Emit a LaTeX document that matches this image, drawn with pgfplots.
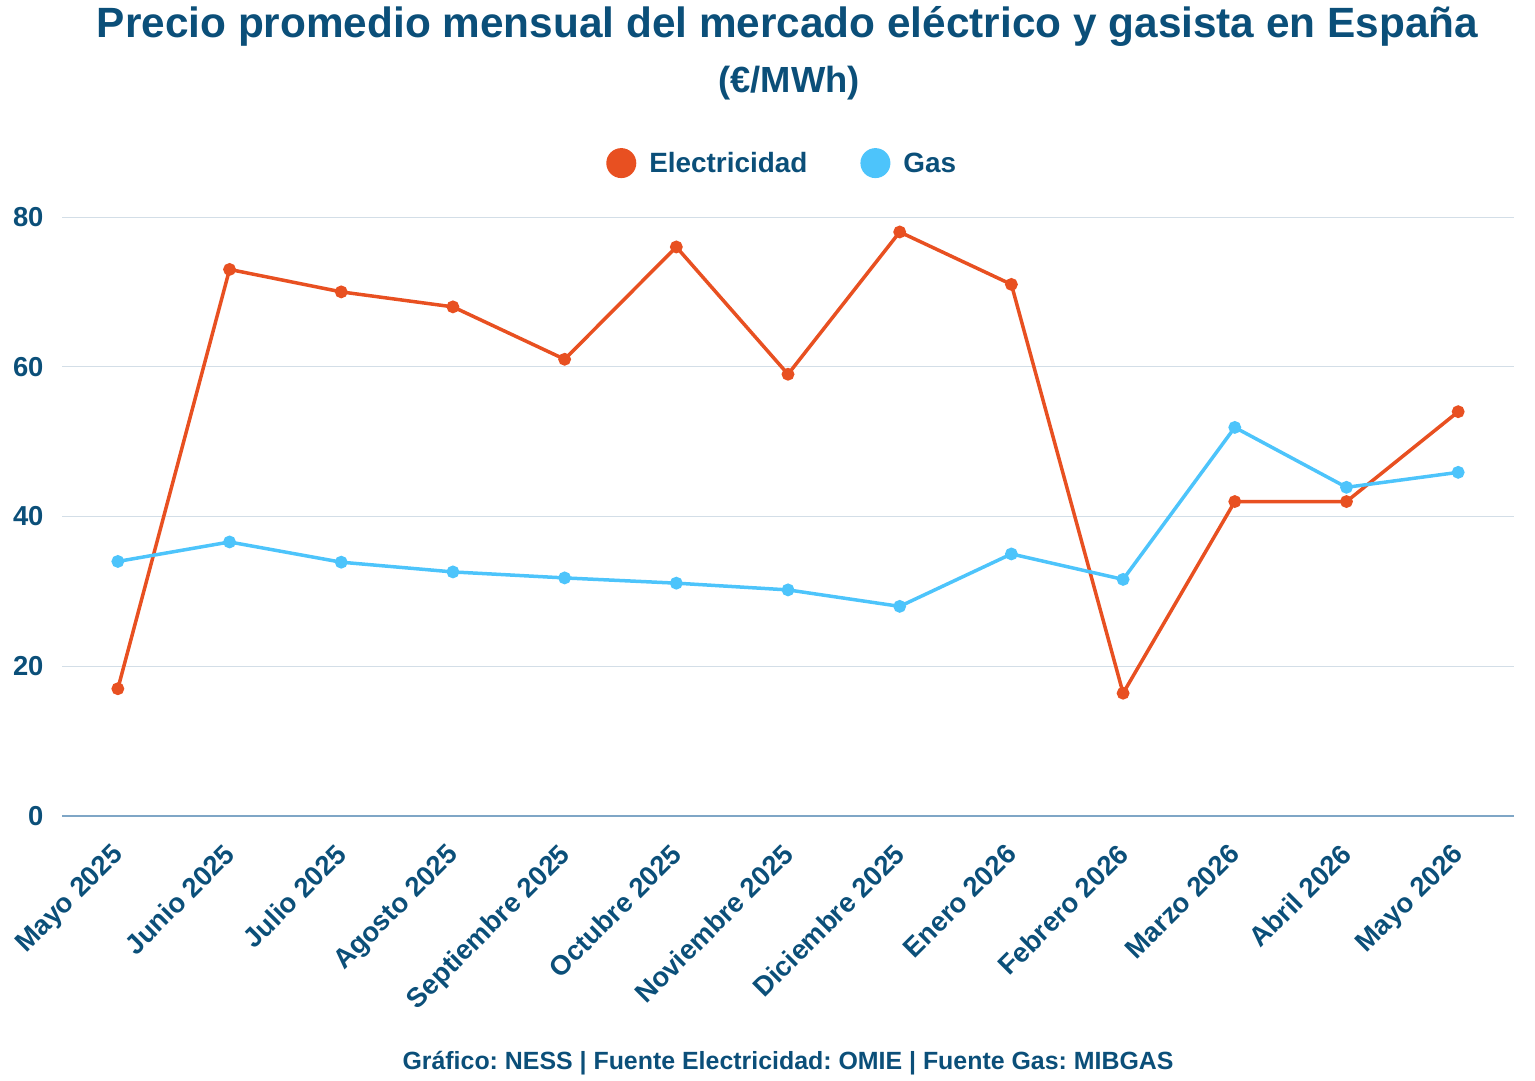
\documentclass[border=0pt]{standalone}
\usepackage{fontspec}
\setmainfont{Liberation Sans}
\usepackage{pgfplots}
\pgfplotsset{compat=1.18}
\frenchspacing

\definecolor{inkblue}{HTML}{0B4F79}
\definecolor{elecorange}{HTML}{E85021}
\definecolor{gasblue}{HTML}{4DC4FB}
\definecolor{gridgray}{HTML}{D3DEE7}
\definecolor{baseblue}{HTML}{7FA6C6}

% Precio medio mensual (EUR/MWh)
\pgfplotstableread{
idx elec gas
0  17.0 34.0
1  73.0 36.6
2  70.0 33.9
3  68.0 32.6
4  61.0 31.8
5  76.0 31.1
6  59.0 30.2
7  78.0 28.0
8  71.0 35.0
9  16.4 31.6
10 42.0 51.9
11 42.0 43.9
12 54.0 45.9
}\precios

\begin{document}
\begin{tikzpicture}[x=1bp,y=1bp]
\useasboundingbox (0,0) rectangle (1535,-1080);

\node[anchor=base, text=inkblue, font=\fontsize{42.5}{48}\selectfont\bfseries]
  at (787.5,-37) {Precio promedio mensual del mercado eléctrico y gasista en España};
\node[anchor=base, text=inkblue, font=\fontsize{36.5}{42}\selectfont\bfseries]
  at (789,-92) {(€/MWh)};

\begin{axis}[
  at={(62bp,-816bp)}, anchor=south west,
  scale only axis, width=1452bp, height=599bp,
  xmin=-0.5, xmax=12.5, ymin=0, ymax=80,
  axis x line*=bottom, axis y line*=left,
  x axis line style={draw=baseblue, line width=1.2bp},
  y axis line style={draw=none},
  major tick length=0pt,
  ymajorgrids, grid style={draw=gridgray, line width=1bp},
  ytick={0,20,40,60,80},
  xtick={0,...,12},
  xticklabels={Mayo 2025, Junio 2025, Julio 2025, Agosto 2025, Septiembre 2025,
    Octubre 2025, Noviembre 2025, Diciembre 2025, Enero 2026, Febrero 2026,
    Marzo 2026, Abril 2026, Mayo 2026},
  /pgf/number format/assume math mode=true,
  ticklabel style={text=inkblue, font=\fontsize{27.5}{32}\selectfont\bfseries},
  yticklabel style={xshift=-15bp},
  xticklabel style={rotate=45, anchor=north east, xshift=-20bp, yshift=-10bp},
  legend style={at={(0.496,1.09)}, anchor=center, draw=none, fill=none,
    legend columns=2, text=inkblue,
    font=\fontsize{28}{32}\selectfont\bfseries,
    /tikz/every even column/.append style={column sep=51bp}},
  legend image code/.code={\fill[#1,draw=none] (0bp,0bp) circle (15bp);
    \path[draw=none,fill=none] (15bp,0bp) -- (26bp,0bp);},
  every axis plot/.append style={line width=3.5bp, mark=*, mark size=4.6bp,
    mark options={solid}},
]
\addplot[color=elecorange] table[x=idx, y=elec] {\precios};
\addlegendentry{Electricidad}
\addplot[color=gasblue] table[x=idx, y=gas] {\precios};
\addlegendentry{Gas}
\end{axis}

\node[anchor=base, text=inkblue, font=\fontsize{25}{30}\selectfont\bfseries]
  at (788,-1069) {Gráfico: NESS | Fuente Electricidad: OMIE | Fuente Gas: MIBGAS};
\end{tikzpicture}
\end{document}
